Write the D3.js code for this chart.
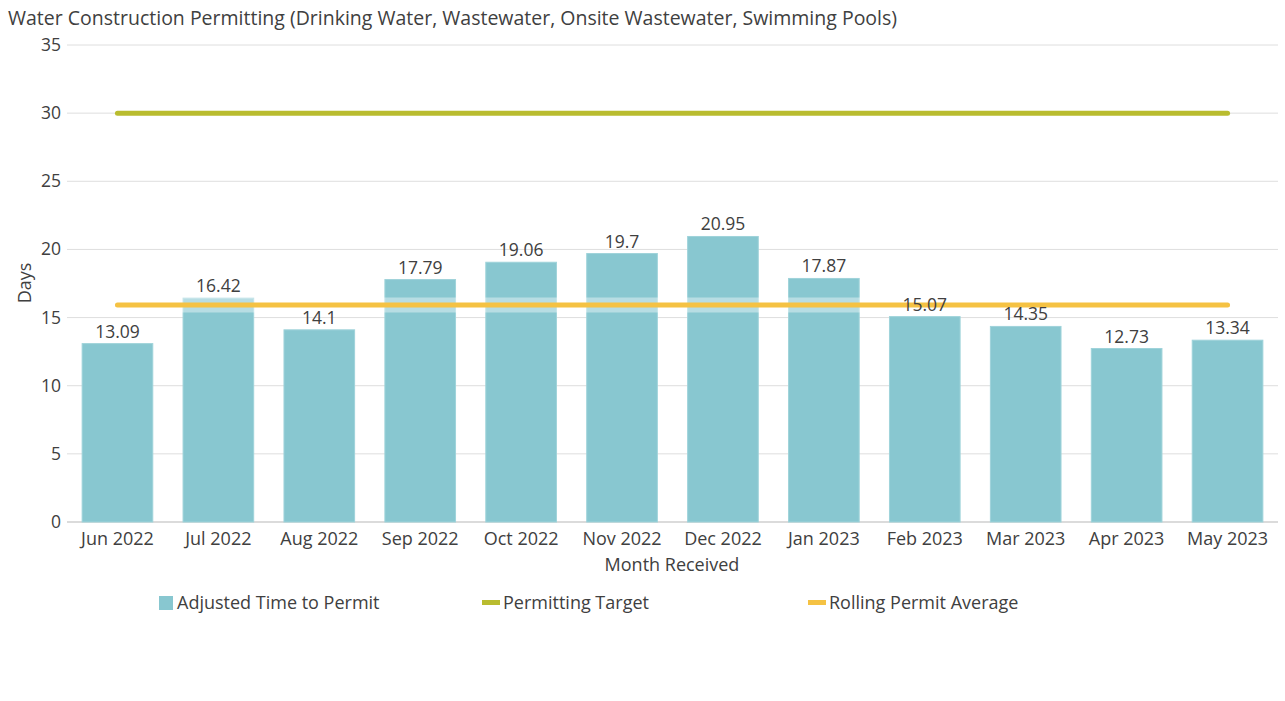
<!DOCTYPE html>
<html><head><meta charset="utf-8">
<script src="https://cdn.jsdelivr.net/npm/d3@7"></script>
<style>body{margin:0;background:#fff;font-family:"Open Sans",sans-serif;}</style>
</head><body><svg id="c" width="1285" height="701"></svg>
<script>
const months = ["Jun 2022","Jul 2022","Aug 2022","Sep 2022","Oct 2022","Nov 2022","Dec 2022","Jan 2023","Feb 2023","Mar 2023","Apr 2023","May 2023"];
const adjusted = [13.09,16.42,14.1,17.79,19.06,19.7,20.95,17.87,15.07,14.35,12.73,13.34];
const target = [30,30,30,30,30,30,30,30,30,30,30,30];
const rolling = [15.93,15.93,15.93,15.93,15.93,15.93,15.93,15.93,15.93,15.93,15.93,15.93];
const yTicks = [0,5,10,15,20,25,30,35];

const svg = d3.select("#c");
const x = d3.scaleBand().domain(months).range([67,1278]).paddingInner(0.3).paddingOuter(0.15);
const y = d3.scaleLinear().domain([0,35]).range([522,45]);
const txt = "#404040";

svg.append("text").attr("x",8).attr("y",25).attr("font-size",19.5).attr("fill",txt)
  .text("Water Construction Permitting (Drinking Water, Wastewater, Onsite Wastewater, Swimming Pools)");

// grid
svg.append("g").selectAll("line").data(yTicks).join("line")
  .attr("x1",67).attr("x2",1278).attr("y1",d=>y(d)).attr("y2",d=>y(d))
  .attr("stroke",d=>d===0?"#cfcfcf":"#dedede").attr("stroke-width",d=>d===0?1.5:1);
svg.append("g").selectAll("text").data(yTicks).join("text")
  .attr("x",61).attr("y",d=>y(d)+6).attr("text-anchor","end").attr("font-size",17.5).attr("fill",txt).text(d=>d);

// bars
svg.append("g").selectAll("rect").data(adjusted).join("rect")
  .attr("x",(d,i)=>x(months[i])).attr("width",x.bandwidth())
  .attr("y",d=>y(d)).attr("height",d=>y(0)-y(d))
  .attr("fill","#88C7D0").attr("stroke","#9fd3da").attr("stroke-width",1);

const line = d3.line().x((d,i)=>x(months[i])+x.bandwidth()/2).y(d=>y(d));
// halo for rolling
svg.append("path").datum(rolling).attr("d",line).attr("fill","none")
  .attr("stroke","#fff").attr("stroke-opacity",0.4).attr("stroke-width",15);
svg.append("path").datum(target).attr("d",line).attr("fill","none")
  .attr("stroke","#B9BC2F").attr("stroke-width",5).attr("stroke-linecap","round");
svg.append("path").datum(rolling).attr("d",line).attr("fill","none")
  .attr("stroke","#F5C243").attr("stroke-width",5).attr("stroke-linecap","round");

svg.append("g").selectAll("text").data(adjusted).join("text")
  .attr("x",(d,i)=>x(months[i])+x.bandwidth()/2).attr("y",d=>y(d)-6)
  .attr("text-anchor","middle").attr("font-size",17.5).attr("fill",txt).text(d=>d);

// x labels
svg.append("g").selectAll("text").data(months).join("text")
  .attr("x",d=>x(d)+x.bandwidth()/2).attr("y",545).attr("text-anchor","middle")
  .attr("font-size",18).attr("fill",txt).text(d=>d);

svg.append("text").attr("x",672).attr("y",571).attr("text-anchor","middle").attr("font-size",18).attr("fill",txt).text("Month Received");
svg.append("text").attr("transform","translate(31,283) rotate(-90)").attr("text-anchor","middle").attr("font-size",18).attr("fill",txt).text("Days");

// legend
const lg = svg.append("g");
lg.append("rect").attr("x",159).attr("y",596).attr("width",14).attr("height",14).attr("fill","#88C7D0");
lg.append("text").attr("x",177).attr("y",609).attr("font-size",18).attr("fill",txt).text("Adjusted Time to Permit");
lg.append("rect").attr("x",482).attr("y",600).attr("width",18).attr("height",5).attr("fill","#B9BC2F");
lg.append("text").attr("x",503).attr("y",609).attr("font-size",18).attr("fill",txt).text("Permitting Target");
lg.append("rect").attr("x",808).attr("y",600).attr("width",18).attr("height",5).attr("fill","#F5C243");
lg.append("text").attr("x",829).attr("y",609).attr("font-size",18).attr("fill",txt).text("Rolling Permit Average");
</script></body></html>
